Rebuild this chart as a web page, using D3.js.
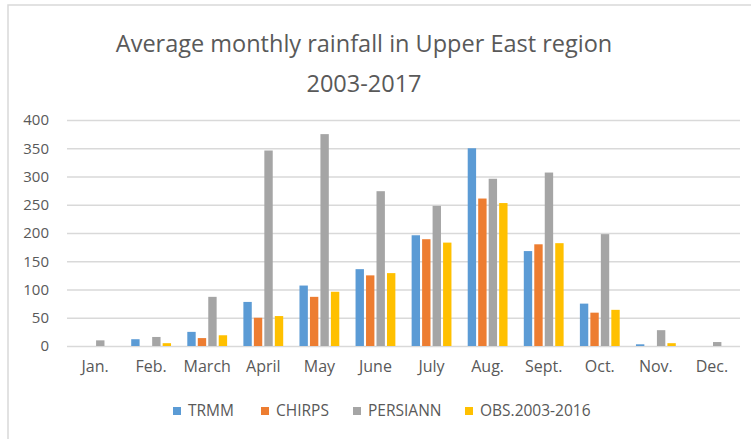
<!DOCTYPE html>
<meta charset="utf-8">
<style>
body { margin: 0; background: #fff; }
text { font-family: "Open Sans", sans-serif; fill: #595959; }
.grid line { stroke: #d9d9d9; stroke-width: 1.5px; }
.grid path { display: none; }
</style>
<body>
<script src="https://d3js.org/d3.v7.min.js"></script>
<script>

// chart data
var months = ["Jan.", "Feb.", "March", "April", "May", "June", "July", "Aug.", "Sept.", "Oct.", "Nov.", "Dec."];
var seriesNames = ["TRMM", "CHIRPS", "PERSIANN", "OBS.2003-2016"];
var trmm     = [0, 12, 25, 78, 107, 136, 196, 350, 168, 75, 3, 0];
var chirps   = [0, 0, 14, 50, 87, 125, 189, 261, 180, 59, 0, 0];
var persiann = [10, 16, 87, 346, 375, 274, 248, 296, 307, 198, 28, 7];
var obs      = [0, 5, 19, 53, 96, 129, 183, 253, 182, 64, 5, 0];
var yTicks = [0, 50, 100, 150, 200, 250, 300, 350, 400];
var colors = ["#5b9bd5", "#ed7d31", "#a5a5a5", "#ffc000"];

var allSeries = [trmm, chirps, persiann, obs];

var W = 751, H = 439;
var plot = {left: 67, right: 740, top: 120, bottom: 346};

var svg = d3.select("body").append("svg")
    .attr("width", W)
    .attr("height", H);

// chart frame
svg.append("rect")
    .attr("x", 8).attr("y", 5)
    .attr("width", W + 20).attr("height", H + 20)
    .attr("fill", "#fff")
    .attr("stroke", "#d9d9d9")
    .attr("stroke-width", 1.5);

// title
svg.append("text")
    .attr("x", 364).attr("y", 52)
    .attr("text-anchor", "middle")
    .style("font-size", "23.5px")
    .text("Average monthly rainfall in Upper East region");
svg.append("text")
    .attr("x", 364).attr("y", 92)
    .attr("text-anchor", "middle")
    .style("font-size", "23.5px")
    .text("2003-2017");

var x0 = d3.scaleBand()
    .domain(months)
    .range([plot.left, plot.right])
    .paddingInner(0.29)
    .paddingOuter(0.145);

var x1 = d3.scaleBand()
    .domain(d3.range(seriesNames.length))
    .range([0, x0.bandwidth()])
    .paddingInner(0.2);

var y = d3.scaleLinear()
    .domain([0, 400])
    .range([plot.bottom, plot.top]);

// gridlines + y labels
var gy = svg.append("g")
    .attr("class", "grid")
    .attr("transform", "translate(" + plot.left + ",0)")
    .call(d3.axisLeft(y).tickValues(yTicks).tickSize(-(plot.right - plot.left)).tickPadding(18));
gy.selectAll("text").style("font-size", "15px").attr("fill", "#595959");

// bars
var groups = svg.selectAll(".month")
    .data(months)
  .enter().append("g")
    .attr("class", "month")
    .attr("transform", function(d) { return "translate(" + x0(d) + ",0)"; });

groups.selectAll("rect")
    .data(function(d, i) { return allSeries.map(function(s, j) { return {k: j, v: s[i]}; }); })
  .enter().append("rect")
    .attr("x", function(d) { return x1(d.k); })
    .attr("width", x1.bandwidth())
    .attr("y", function(d) { return y(d.v); })
    .attr("height", function(d) { return y(0) - y(d.v); })
    .attr("fill", function(d) { return colors[d.k]; });

// x labels
var gx = svg.append("g")
    .attr("transform", "translate(0," + plot.bottom + ")")
    .call(d3.axisBottom(x0).tickSize(0).tickPadding(15));
gx.select(".domain").remove();
gx.selectAll("text").style("font-size", "16px").attr("fill", "#595959");

// legend
var legendX = [173, 261, 353, 465];
var legend = svg.selectAll(".legend")
    .data(seriesNames)
  .enter().append("g")
    .attr("class", "legend")
    .attr("transform", function(d, i) { return "translate(" + legendX[i] + ",411)"; });

legend.append("rect")
    .attr("x", 0).attr("y", -4)
    .attr("width", 8).attr("height", 8)
    .attr("fill", function(d, i) { return colors[i]; });

legend.append("text")
    .attr("x", 15)
    .attr("dy", "0.35em")
    .style("font-size", "15.5px")
    .text(function(d) { return d; });

</script>
</body>
